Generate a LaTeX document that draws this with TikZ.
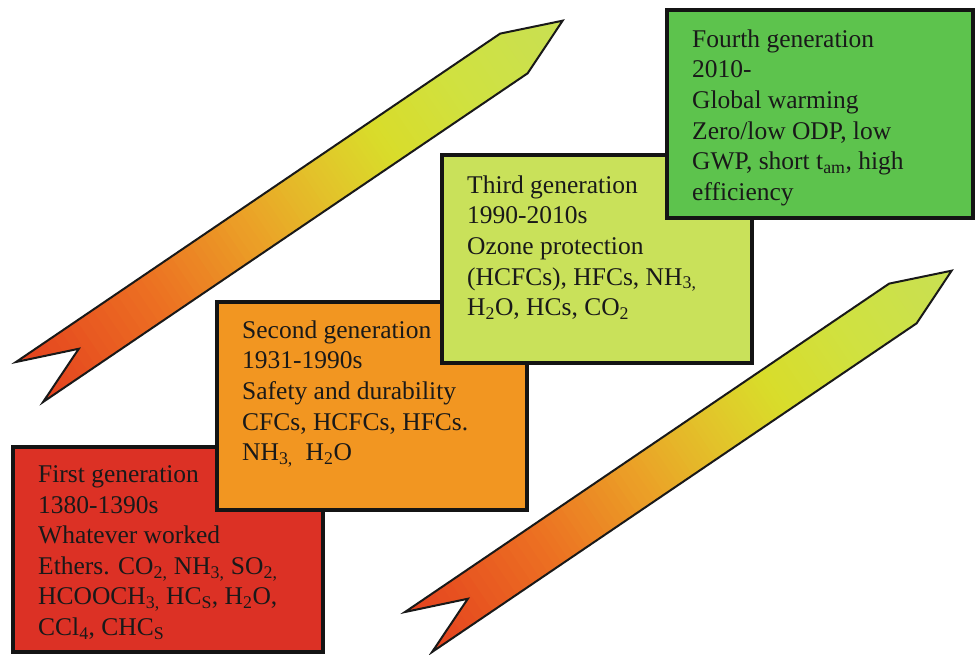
\documentclass[tikz,border=0pt]{standalone}
\usepackage{fontspec}
\setmainfont{Liberation Serif}
\definecolor{boxred}{HTML}{DC3125}
\definecolor{boxorange}{HTML}{F29621}
\definecolor{boxlime}{HTML}{C9E15A}
\definecolor{boxgreen}{HTML}{5DC34D}
\definecolor{arA}{HTML}{E4401F}
\definecolor{arB}{HTML}{EC6F22}
\definecolor{arC}{HTML}{EBA127}
\definecolor{arD}{HTML}{E2C52A}
\definecolor{arE}{HTML}{D9DC2A}
\definecolor{arF}{HTML}{D0E140}
\definecolor{arG}{HTML}{C8E054}
\tikzset{
  genbox/.style={draw=black!92, line width=4pt, fill=#1},
  gentext/.style={anchor=north west, inner sep=0pt, align=left,
    font=\fontsize{25.5}{30.6}\selectfont, text=black!90},
  arrowline/.style={draw=black!90, line width=2pt, line join=miter}
}
\begin{document}
\begin{tikzpicture}[x=1pt,y=-1pt]
\useasboundingbox (0,0) rectangle (976,655);
% gradient arrows
\foreach \ax/\ay/\nm in {16/362/arrowA, 405/612/arrowB} {
  \begin{scope}[shift={(\ax,\ay)}, rotate=34.15]
    \coordinate (\nm) at (0,0);
    \begin{scope}
      \clip (0,0) -- (585,0) -- (644,24.4) -- (585.5,48.3) -- (0,48.3) -- (59.4,24.3) -- cycle;
      \foreach \sa/\sb/\ca/\cb in {-3/150/arA/arB, 150/270/arB/arC, 270/360/arC/arD, 360/425/arD/arE, 425/520/arE/arF, 520/650/arF/arG} {
        \foreach \k in {0,...,15} {
          \pgfmathsetmacro\xa{\sa+(\sb-\sa)*\k/16}
          \pgfmathsetmacro\xb{\sa+(\sb-\sa)*(\k+1)/16+0.8}
          \pgfmathtruncatemacro\pc{100-100*(\k+0.5)/16}
          \colorlet{stripc}{\ca!\pc!\cb}
          \fill[stripc] (\xa,-3) rectangle (\xb,52);
        }
      }
    \end{scope}
    \draw[arrowline] (0,0) -- (585,0) -- (644,24.4) -- (585.5,48.3) -- (0,48.3) -- (59.4,24.3) -- cycle;
  \end{scope}
}
% boxes
\path[genbox=boxred] (13,447) rectangle (323,652);
\node (gen1) [gentext] at (38,465.5) {First generation\\1380-1390s\\Whatever worked\\Ethers. CO\textsubscript{2,} NH\textsubscript{3,} SO\textsubscript{2,}\\HCOOCH\textsubscript{3,} HC\textsubscript{S}, H\textsubscript{2}O,\\CCl\textsubscript{4}, CHC\textsubscript{S}};
\path[genbox=boxorange] (217,302) rectangle (527,510);
\node (gen2) [gentext] at (242,320.5) {Second generation\\1931-1990s\\Safety and durability\\CFCs, HCFCs, HFCs.\\NH\textsubscript{3,}\ \ H\textsubscript{2}O};
\path[genbox=boxlime] (442,155) rectangle (752,363);
\node (gen3) [gentext] at (467,175.5) {Third generation\\1990-2010s\\Ozone protection\\(HCFCs), HFCs, NH\textsubscript{3,}\\H\textsubscript{2}O, HCs, CO\textsubscript{2}};
\path[genbox=boxgreen] (667,10) rectangle (973,218);
\node (gen4) [gentext] at (692,29.5) {Fourth generation\\2010-\\Global warming\\Zero/low ODP, low\\GWP, short t\textsubscript{am}, high\\efficiency};
\end{tikzpicture}
\end{document}
